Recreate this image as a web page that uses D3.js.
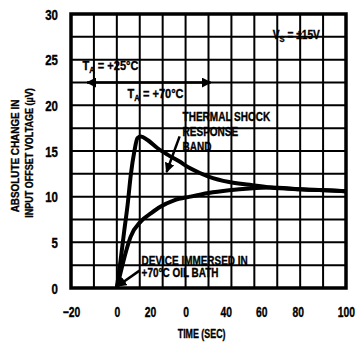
<!DOCTYPE html>
<html>
<head>
<meta charset="utf-8">
<script src="https://cdn.jsdelivr.net/npm/d3@7"></script>
<style>
  body { margin: 0; background: #fff; }
  text { font-family: "Liberation Sans", Arial, sans-serif; font-weight: bold; fill: #000; stroke: #000; stroke-width: 0.35px; }
</style>
</head>
<body>
<div id="chart"></div>
<script>
var svgWidth = 361;
var svgHeight = 344;

// data
var shockTime = [0, 1.75, 3.2, 4.7, 6.1, 7.6, 9, 10.5, 13.4, 17.8, 22.1, 27, 32, 40, 49, 58, 67, 80, 100];
var shockVos  = [0, 3.25, 6.2, 9.1, 12.4, 14.9, 16.4, 16.6, 16.2, 15.3, 14.6, 13.9, 13.1, 12.2, 11.6, 11.3, 11.0, 10.8, 10.6];
var bathTime = [0, 1.75, 4, 6, 10.5, 15, 19, 25, 32, 40, 49, 58, 67, 80, 100];
var bathVos  = [0, 1.8, 4.0, 5.6, 7.3, 8.2, 8.9, 9.6, 10.0, 10.4, 10.7, 10.9, 11.0, 10.8, 10.6];

// tick labels as printed (the original sheet has an extra "0")
var xTickAt = [-20, 0, 14.5, 30, 47.5, 63, 79, 100];
var xTickLabels = ["\u221220", "0", "20", "0", "40", "60", "80", "100"];
var yTicks = [0, 5, 10, 15, 20, 25, 30];

var svg = d3.select("#chart")
  .append("svg")
  .attr("width", svgWidth)
  .attr("height", svgHeight);

// scales
var xScale = d3.scaleLinear()
  .domain([-20, 100])
  .range([71, 346]);
var yScale = d3.scaleLinear()
  .domain([0, 30])
  .range([288, 14]);

// narrow the type like the condensed face of the sheet
function squeeze(sel, sx) {
  sel.each(function() {
    var t = d3.select(this);
    var x = +t.attr("x") || 0, y = +t.attr("y") || 0;
    t.attr("transform", "translate(" + x + "," + y + ") scale(" + sx + ",1)")
      .attr("x", 0)
      .attr("y", 0);
  });
}

// grid
svg.append("g")
  .selectAll("line")
  .data(d3.range(-20, 101, 10))
  .enter()
  .append("line")
  .attr("x1", function(d) { return xScale(d); })
  .attr("x2", function(d) { return xScale(d); })
  .attr("y1", yScale(0))
  .attr("y2", yScale(30))
  .attr("stroke", "#000")
  .attr("stroke-width", 2);
svg.append("g")
  .selectAll("line")
  .data(d3.range(0, 30.1, 2.5))
  .enter()
  .append("line")
  .attr("x1", xScale(-20))
  .attr("x2", xScale(100))
  .attr("y1", function(d) { return yScale(d); })
  .attr("y2", function(d) { return yScale(d); })
  .attr("stroke", "#000")
  .attr("stroke-width", 2);

// frame
svg.append("rect")
  .attr("x", xScale(-20))
  .attr("y", yScale(30))
  .attr("width", xScale(100) - xScale(-20))
  .attr("height", yScale(0) - yScale(30))
  .attr("fill", "none")
  .attr("stroke", "#000")
  .attr("stroke-width", 3.5);

// axes (labels only)
var xAxis = d3.axisBottom(xScale)
  .tickValues(xTickAt)
  .tickSize(0)
  .tickFormat(function(d, i) { return xTickLabels[i]; });
var gx = svg.append("g")
  .attr("transform", "translate(0," + yScale(0) + ")")
  .call(xAxis);
gx.select(".domain").remove();
gx.selectAll("text")
  .attr("dy", null)
  .attr("y", 29)
  .style("font-size", "14px")
  .call(squeeze, 0.74);

var yAxis = d3.axisLeft(yScale)
  .tickValues(yTicks)
  .tickSize(0)
  .tickFormat(d3.format("d"));
var gy = svg.append("g")
  .attr("transform", "translate(" + xScale(-20) + ",0)")
  .call(yAxis);
gy.select(".domain").remove();
gy.selectAll("text")
  .attr("x", -13)
  .attr("dy", "0.36em")
  .style("font-size", "14px")
  .call(squeeze, 0.82);

// curves
var line = d3.line()
  .x(function(d) { return xScale(d[0]); })
  .y(function(d) { return yScale(d[1]); })
  .curve(d3.curveMonotoneX);

svg.append("path")
  .datum(d3.zip(shockTime, shockVos))
  .attr("d", line)
  .attr("fill", "none")
  .attr("stroke", "#000")
  .attr("stroke-width", 4);
svg.append("path")
  .datum(d3.zip(bathTime, bathVos))
  .attr("d", line)
  .attr("fill", "none")
  .attr("stroke", "#000")
  .attr("stroke-width", 4);

// arrowheads
var defs = svg.append("defs");
defs.append("marker")
  .attr("id", "head")
  .attr("viewBox", "0 0 10 10")
  .attr("refX", 9)
  .attr("refY", 5)
  .attr("markerWidth", 4)
  .attr("markerHeight", 4)
  .attr("markerUnits", "strokeWidth")
  .attr("orient", "auto-start-reverse")
  .append("path")
  .attr("d", "M0,0L10,5L0,10z")
  .attr("fill", "#000");

function arrow(t1, v1, t2, v2, both) {
  var a = svg.append("line")
    .attr("x1", xScale(t1)).attr("y1", yScale(v1))
    .attr("x2", xScale(t2)).attr("y2", yScale(v2))
    .attr("stroke", "#000")
    .attr("stroke-width", 2.5)
    .attr("marker-end", "url(#head)");
  if (both) a.attr("marker-start", "url(#head)");
}
arrow(-13, 22.5, 41, 22.5, true);
arrow(27.4, 16.6, 21.7, 12.7, false);
arrow(9.9, 1.9, 0.2, 0.2, false);

// annotation text
function label(t, v, size) {
  return svg.append("text")
    .attr("x", xScale(t))
    .attr("y", yScale(v))
    .style("font-size", size + "px");
}
function sub(el, main, s, rest) {
  el.append("tspan").text(main);
  el.append("tspan").attr("dy", 3).style("font-size", "9px").text(s);
  el.append("tspan").attr("dy", -3).text(rest);
  return el;
}
sub(label(-15, 23.9, 13), "T", "A", " = +25\u00b0C").call(squeeze, 0.85);
sub(label(4.7, 20.8, 13), "T", "A", " = +70\u00b0C").call(squeeze, 0.85);
sub(label(68, 27.3, 12), "V", "S", " = \u00b115V").call(squeeze, 0.85);

label(28.7, 18.3, 13).text("THERMAL SHOCK").call(squeeze, 0.77);
label(28.7, 16.6, 13).text("RESPONSE").call(squeeze, 0.77);
label(28.7, 15.0, 13).text("BAND").call(squeeze, 0.77);
label(10.8, 2.5, 12).text("DEVICE IMMERSED IN").call(squeeze, 0.83);
label(10.8, 1.2, 12).text("+70\u00b0C OIL BATH").call(squeeze, 0.83);

// axis titles
svg.append("text")
  .attr("x", xScale(37))
  .attr("y", 338)
  .attr("text-anchor", "middle")
  .style("font-size", "12px")
  .text("TIME (SEC)")
  .call(squeeze, 0.74);
svg.append("text")
  .attr("transform", "translate(19,156) rotate(-90) scale(0.9,1)")
  .attr("text-anchor", "middle")
  .style("font-size", "11px")
  .text("ABSOLUTE CHANGE IN");
svg.append("text")
  .attr("transform", "translate(33,153) rotate(-90) scale(0.82,1)")
  .attr("text-anchor", "middle")
  .style("font-size", "11px")
  .text("INPUT OFFSET VOLTAGE (\u00b5V)");
</script>
</body>
</html>
